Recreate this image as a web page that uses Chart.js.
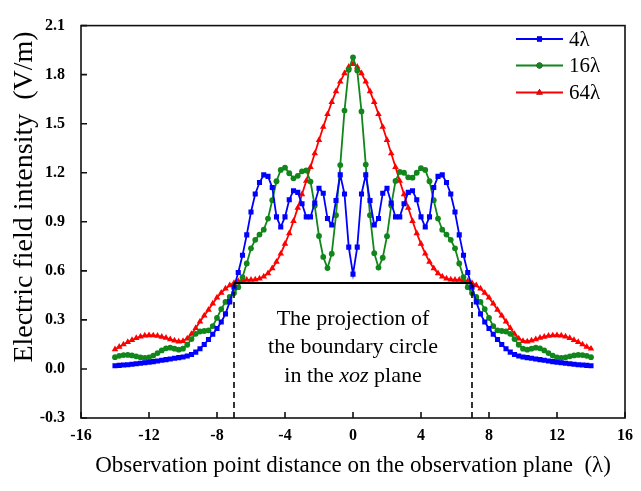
<!DOCTYPE html>
<html>
<head>
<meta charset="utf-8">
<script src="https://cdn.jsdelivr.net/npm/chart.js@4.4.1/dist/chart.umd.min.js"></script>
<style>
  html, body { margin: 0; padding: 0; background: #fff; }
  #wrap { width: 641px; height: 491px; position: relative; }
</style>
</head>
<body>
<div id="wrap"><canvas id="fieldChart"></canvas></div>
<script>
// observation points (lambda)
var xs = [-14,-13.75,-13.5,-13.25,-13,-12.75,-12.5,-12.25,-12,-11.75,-11.5,-11.25,-11,-10.75,-10.5,-10.25,
  -10,-9.75,-9.5,-9.25,-9,-8.75,-8.5,-8.25,-8,-7.75,-7.5,-7.25,-7,-6.75,-6.5,-6.25,-6,-5.75,-5.5,-5.25,
  -5,-4.75,-4.5,-4.25,-4,-3.75,-3.5,-3.25,-3,-2.75,-2.5,-2.25,-2,-1.75,-1.5,-1.25,-1,-0.75,-0.5,-0.25,
  0,0.25,0.5,0.75,1,1.25,1.5,1.75,2,2.25,2.5,2.75,3,3.25,3.5,3.75,4,4.25,4.5,4.75,5,5.25,5.5,5.75,
  6,6.25,6.5,6.75,7,7.25,7.5,7.75,8,8.25,8.5,8.75,9,9.25,9.5,9.75,10,10.25,10.5,10.75,11,11.25,11.5,11.75,
  12,12.25,12.5,12.75,13,13.25,13.5,13.75,14];

var series4 = [0.020,0.022,0.024,0.026,0.029,0.032,0.035,0.038,0.041,0.045,0.049,0.053,0.057,0.061,0.065,0.069,
  0.073,0.079,0.088,0.103,0.124,0.150,0.180,0.212,0.247,0.287,0.337,0.410,0.500,0.590,0.695,0.820,0.960,1.070,1.140,1.187,
  1.178,1.110,0.930,0.868,0.930,1.035,1.090,1.080,1.010,0.930,0.930,1.015,1.105,1.075,0.920,0.880,1.030,1.187,1.070,0.745,
  0.580,
  0.745,1.070,1.187,1.030,0.880,0.920,1.075,1.105,1.015,0.930,0.930,1.010,1.080,1.090,1.035,0.930,0.868,0.930,1.110,1.178,
  1.187,1.140,1.070,0.960,0.820,0.695,0.590,0.500,0.410,0.337,0.287,0.247,0.212,0.180,0.150,0.124,0.103,0.088,0.079,0.073,
  0.069,0.065,0.061,0.057,0.053,0.049,0.045,0.041,0.038,0.035,0.032,0.029,0.026,0.024,0.022,0.020];

var series16 = [0.072,0.080,0.085,0.086,0.083,0.077,0.071,0.068,0.071,0.082,0.097,0.113,0.126,0.130,0.124,0.118,
  0.124,0.148,0.183,0.215,0.229,0.232,0.236,0.262,0.312,0.366,0.410,0.440,0.465,0.500,0.562,0.645,0.738,0.790,0.822,0.852,
  0.920,1.032,1.148,1.217,1.231,1.197,1.166,1.181,1.209,1.214,1.146,0.998,0.813,0.685,0.617,0.705,0.940,1.247,1.580,1.830,
  1.906,
  1.825,1.575,1.250,0.940,0.708,0.620,0.680,0.812,1.000,1.150,1.205,1.200,1.172,1.170,1.200,1.228,1.217,1.148,1.032,0.920,
  0.852,0.822,0.790,0.738,0.645,0.562,0.500,0.465,0.440,0.410,0.366,0.312,0.262,0.236,0.232,0.229,0.215,0.183,0.148,0.124,
  0.118,0.124,0.130,0.126,0.113,0.097,0.082,0.071,0.068,0.071,0.077,0.083,0.086,0.085,0.080,0.072];

var series64 = [0.120,0.135,0.150,0.164,0.177,0.189,0.198,0.204,0.206,0.205,0.202,0.197,0.190,0.181,0.173,0.168,
  0.171,0.186,0.214,0.250,0.290,0.326,0.362,0.400,0.436,0.466,0.491,0.511,0.526,0.537,0.543,0.545,0.545,0.547,0.553,0.565,
  0.585,0.615,0.655,0.705,0.765,0.830,0.905,0.985,1.068,1.150,1.235,1.318,1.400,1.480,1.558,1.632,1.698,1.757,1.808,1.848,
  1.865,
  1.848,1.808,1.757,1.698,1.632,1.558,1.480,1.400,1.318,1.235,1.150,1.068,0.985,0.905,0.830,0.765,0.705,0.655,0.615,0.585,
  0.565,0.553,0.547,0.545,0.545,0.543,0.537,0.526,0.511,0.491,0.466,0.436,0.400,0.362,0.326,0.290,0.250,0.214,0.186,0.171,
  0.168,0.173,0.181,0.190,0.197,0.202,0.205,0.206,0.204,0.198,0.189,0.177,0.164,0.150,0.135,0.124];

var seriesNames = ['4\u03bb', '16\u03bb', '64\u03bb'];

// boundary circle projection: half width and level of the flat line
var boundaryX = 7;
var boundaryLevel = 0.525;
var noteLines = ['The projection of', 'the boundary circle'];

var SERIF = "'Liberation Serif', 'Times New Roman', serif";
var BLUE = '#0000ff', GREEN = '#11861a', RED = '#ff0000';

Chart.defaults.font.family = SERIF;
Chart.defaults.color = '#000';

function pts(vals) {
  return xs.map(function (x, i) { return { x: x, y: vals[i] }; });
}

function mkSet(label, vals, color, style, r) {
  return {
    label: label,
    data: pts(vals),
    borderColor: color,
    backgroundColor: color,
    borderWidth: 1.8,
    pointStyle: style,
    pointRadius: r,
    pointBorderWidth: 0,
    pointBackgroundColor: color,
    tension: 0
  };
}

var decor = {
  id: 'decor',
  afterDatasetsDraw: function (chart) {
    var ctx = chart.ctx, a = chart.chartArea;
    var sx = chart.scales.x, sy = chart.scales.y;
    ctx.save();

    // projection of the boundary circle
    var xl = sx.getPixelForValue(-boundaryX), xr = sx.getPixelForValue(boundaryX);
    var yl = sy.getPixelForValue(boundaryLevel);
    ctx.strokeStyle = '#000';
    ctx.lineWidth = 2;
    ctx.beginPath();
    ctx.moveTo(xl, yl); ctx.lineTo(xr, yl);
    ctx.stroke();
    ctx.lineWidth = 1.6;
    ctx.setLineDash([6, 4]);
    ctx.beginPath();
    ctx.moveTo(xl, a.bottom); ctx.lineTo(xl, yl);
    ctx.moveTo(xr, a.bottom); ctx.lineTo(xr, yl);
    ctx.stroke();
    ctx.setLineDash([]);

    // note text
    var cx = sx.getPixelForValue(0);
    var ty = sy.getPixelForValue(0.3);
    ctx.fillStyle = '#000';
    ctx.textBaseline = 'middle';
    ctx.textAlign = 'center';
    ctx.font = '22px ' + SERIF;
    ctx.fillText(noteLines[0], cx, ty - 1);
    ctx.fillText(noteLines[1], cx, ty + 27.5);
    var p1 = 'in the ', p2 = 'xoz', p3 = ' plane';
    var w1 = ctx.measureText(p1).width, w3 = ctx.measureText(p3).width;
    ctx.font = 'italic 22px ' + SERIF;
    var w2 = ctx.measureText(p2).width;
    var sxp = cx - (w1 + w2 + w3) / 2, y3 = ty + 56;
    ctx.textAlign = 'left';
    ctx.font = '22px ' + SERIF;
    ctx.fillText(p1, sxp, y3);
    ctx.font = 'italic 22px ' + SERIF;
    ctx.fillText(p2, sxp + w1, y3);
    ctx.font = '22px ' + SERIF;
    ctx.fillText(p3, sxp + w1 + w2, y3);

    // frame and inward ticks
    ctx.strokeStyle = '#111';
    ctx.lineWidth = 1.6;
    ctx.strokeRect(a.left, a.top, a.right - a.left, a.bottom - a.top);
    ctx.beginPath();
    sx.ticks.forEach(function (t) {
      var px = sx.getPixelForValue(t.value);
      ctx.moveTo(px, a.bottom); ctx.lineTo(px, a.bottom - 6);
    });
    sy.ticks.forEach(function (t) {
      var py = sy.getPixelForValue(t.value);
      ctx.moveTo(a.left, py); ctx.lineTo(a.left + 6, py);
    });
    ctx.stroke();

    // legend
    var rows = [39, 65.5, 92.5];
    chart.data.datasets.forEach(function (ds, i) {
      var y = rows[i];
      ctx.strokeStyle = ds.borderColor;
      ctx.lineWidth = 1.8;
      ctx.beginPath();
      ctx.moveTo(516, y); ctx.lineTo(563, y);
      ctx.stroke();
      Chart.helpers.drawPoint(ctx, { pointStyle: ds.pointStyle, radius: ds.pointRadius, borderWidth: 0 }, 539.5, y);
      ctx.fillStyle = ds.borderColor;
      ctx.fill();
      ctx.fillStyle = '#000';
      ctx.font = '21px ' + SERIF;
      ctx.textAlign = 'left';
      ctx.textBaseline = 'middle';
      ctx.fillText(ds.label, 569, y + 1);
    });

    // axis titles
    ctx.fillStyle = '#000';
    ctx.font = '23px ' + SERIF;
    ctx.textAlign = 'center';
    ctx.textBaseline = 'middle';
    ctx.fillText('Observation point distance on the observation plane  (\u03bb)', (a.left + a.right) / 2, 466);
    ctx.save();
    ctx.translate(25, 197);
    ctx.rotate(-Math.PI / 2);
    ctx.font = '28px ' + SERIF;
    ctx.fillText('Electric field intensity  (V/m)', 0, 0);
    ctx.restore();

    ctx.restore();
  }
};

new Chart(document.getElementById('fieldChart'), {
  type: 'line',
  data: {
    datasets: [
      mkSet(seriesNames[0], series4, BLUE, 'rect', 3.6),
      mkSet(seriesNames[1], series16, GREEN, 'circle', 2.9),
      mkSet(seriesNames[2], series64, RED, 'triangle', 3.8)
    ]
  },
  options: {
    responsive: true,
    maintainAspectRatio: false,
    animation: false,
    layout: { padding: { top: 13, right: 11, left: 0, bottom: 0 } },
    plugins: { legend: { display: false }, tooltip: { enabled: false } },
    scales: {
      x: {
        type: 'linear',
        min: -16, max: 16,
        grid: { display: false, drawTicks: false },
        border: { display: false },
        ticks: {
          stepSize: 4, padding: 8,
          font: { size: 16, weight: 'bold', family: SERIF },
          color: '#000'
        },
        afterFit: function (s) { s.height = 73; }
      },
      y: {
        min: -0.3, max: 2.1,
        grid: { display: false, drawTicks: false },
        border: { display: false },
        ticks: {
          stepSize: 0.3, padding: 16,
          font: { size: 16, weight: 'bold', family: SERIF },
          color: '#000',
          callback: function (v) { return v.toFixed(1); }
        },
        afterFit: function (s) { s.width = 81; }
      }
    }
  },
  plugins: [decor]
});
</script>
</body>
</html>
